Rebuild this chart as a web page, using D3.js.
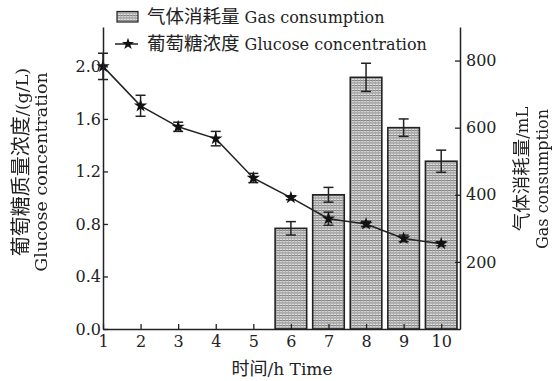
<!DOCTYPE html>
<html>
<head>
<meta charset="utf-8">
<script src="https://cdn.jsdelivr.net/npm/d3@7"></script>
<style>
  body { margin: 0; background: #fff; }
  text { font-family: "DejaVu Serif", serif; fill: #222; }
  .cjk { font-family: "Noto Sans CJK SC"; }
  .vt { filter: grayscale(100%); }
</style>
</head>
<body>
<div id="root"></div>
<script>
// time points (h)
const hours = [1, 2, 3, 4, 5, 6, 7, 8, 9, 10];
// glucose concentration (g/L) and its error
const glucose = [2.0, 1.70, 1.54, 1.45, 1.15, 1.0, 0.84, 0.80, 0.69, 0.65];
const glucoseErr = [0.10, 0.08, 0.035, 0.055, 0.035, 0.015, 0.05, 0.02, 0.025, 0.015];
// gas consumption (mL), only from hour 6 on
const gasHours = [6, 7, 8, 9, 10];
const gas = [300, 400, 750, 600, 500];
const gasErr = [20, 22, 42, 26, 33];

const leftTicks = [0, 0.4, 0.8, 1.2, 1.6, 2.0];
const rightTicks = [200, 400, 600, 800];

const width = 553, height = 381;
const m = { left: 103, right: 93, top: 27, bottom: 52 };

const svg = d3.select("#root").append("svg")
    .attr("width", width)
    .attr("height", height);

// split a label into chinese / latin runs so each gets its own font
function mixed(sel, str, cjkSize, latSize) {
    const runs = str.match(/[\u3400-\u9fff]+|[^\u3400-\u9fff]+/g);
    runs.forEach(function (r) {
        const isCjk = /[\u3400-\u9fff]/.test(r);
        sel.append("tspan")
            .attr("class", isCjk ? "cjk" : null)
            .style("font-size", (isCjk ? cjkSize : latSize) + "px")
            .text(r);
    });
    return sel;
}

// hatch pattern for bars
const defs = svg.append("defs");
const pat = defs.append("pattern")
    .attr("id", "grid")
    .attr("patternUnits", "userSpaceOnUse")
    .attr("width", 3)
    .attr("height", 2.5);
pat.append("rect").attr("width", 3).attr("height", 2.5).attr("fill", "#e2e2e2");
pat.append("rect").attr("y", 0).attr("width", 3).attr("height", 1).attr("fill", "#7a7a7a");
pat.append("rect").attr("x", 0).attr("width", 0.8).attr("height", 2.5).attr("fill", "#a8a8a8");

const x = d3.scaleLinear()
    .domain([1, 10.5])
    .range([m.left, width - m.right]);

const yL = d3.scaleLinear()
    .domain([0, 2.3])
    .range([height - m.bottom, m.top]);

const yR = d3.scaleLinear()
    .domain([0, 900])
    .range([height - m.bottom, m.top]);

const barW = 0.84 * (x(2) - x(1));

// bars
svg.selectAll(".bar")
    .data(gasHours)
    .enter()
    .append("rect")
    .attr("class", "bar")
    .attr("x", (d) => x(d) - barW / 2)
    .attr("y", (d, i) => yR(gas[i]))
    .attr("width", barW)
    .attr("height", (d, i) => yR(0) - yR(gas[i]))
    .attr("fill", "url(#grid)")
    .attr("stroke", "#222")
    .attr("stroke-width", 1.6);

// bar error bars
const capW = 5;
const barErr = svg.selectAll(".berr")
    .data(gasHours)
    .enter()
    .append("g")
    .attr("class", "berr")
    .attr("stroke", "#222")
    .attr("stroke-width", 1.5);
barErr.append("line")
    .attr("x1", (d) => x(d)).attr("x2", (d) => x(d))
    .attr("y1", (d, i) => yR(gas[i] - gasErr[i]))
    .attr("y2", (d, i) => yR(gas[i] + gasErr[i]));
barErr.append("line")
    .attr("x1", (d) => x(d) - capW).attr("x2", (d) => x(d) + capW)
    .attr("y1", (d, i) => yR(gas[i] + gasErr[i]))
    .attr("y2", (d, i) => yR(gas[i] + gasErr[i]));
barErr.append("line")
    .attr("x1", (d) => x(d) - capW).attr("x2", (d) => x(d) + capW)
    .attr("y1", (d, i) => yR(gas[i] - gasErr[i]))
    .attr("y2", (d, i) => yR(gas[i] - gasErr[i]));

// glucose line
const line = d3.line()
    .x((d) => x(d))
    .y((d, i) => yL(glucose[i]));
svg.append("path")
    .datum(hours)
    .attr("d", line)
    .attr("fill", "none")
    .attr("stroke", "#222")
    .attr("stroke-width", 1.5);

// glucose error bars
const gErr = svg.selectAll(".gerr")
    .data(hours)
    .enter()
    .append("g")
    .attr("class", "gerr")
    .attr("stroke", "#222")
    .attr("stroke-width", 1.5);
gErr.append("line")
    .attr("x1", (d) => x(d)).attr("x2", (d) => x(d))
    .attr("y1", (d, i) => yL(glucose[i] - glucoseErr[i]))
    .attr("y2", (d, i) => yL(glucose[i] + glucoseErr[i]));
gErr.append("line")
    .attr("x1", (d) => x(d) - capW).attr("x2", (d) => x(d) + capW)
    .attr("y1", (d, i) => yL(glucose[i] + glucoseErr[i]))
    .attr("y2", (d, i) => yL(glucose[i] + glucoseErr[i]));
gErr.append("line")
    .attr("x1", (d) => x(d) - capW).attr("x2", (d) => x(d) + capW)
    .attr("y1", (d, i) => yL(glucose[i] - glucoseErr[i]))
    .attr("y2", (d, i) => yL(glucose[i] - glucoseErr[i]));

// star markers
const star = d3.symbol().type(d3.symbolStar).size(55);
svg.selectAll(".pt")
    .data(hours)
    .enter()
    .append("path")
    .attr("class", "pt")
    .attr("d", star)
    .attr("transform", (d, i) => "translate(" + x(d) + "," + yL(glucose[i]) + ")")
    .attr("fill", "#111");

// axes
const axisStyle = (g) => {
    g.select(".domain").attr("stroke", "#222").attr("stroke-width", 1.5);
    g.selectAll(".tick line").attr("stroke", "#222").attr("stroke-width", 1.3);
    g.selectAll(".tick text")
        .style("font-family", "DejaVu Serif")
        .style("font-size", "16px").attr("fill", "#222");
};

svg.append("g")
    .attr("transform", "translate(0," + yL(0) + ")")
    .call(d3.axisBottom(x).tickValues(hours).tickFormat(d3.format("d"))
        .tickSizeInner(-5).tickSizeOuter(0).tickPadding(7))
    .call(axisStyle);

svg.append("g")
    .attr("transform", "translate(" + m.left + ",0)")
    .call(d3.axisLeft(yL).tickValues(leftTicks).tickFormat(d3.format(".1f"))
        .tickSizeInner(-5).tickSizeOuter(0).tickPadding(2))
    .call(axisStyle);

svg.append("g")
    .attr("transform", "translate(" + (width - m.right) + ",0)")
    .call(d3.axisRight(yR).tickValues(rightTicks)
        .tickSizeInner(-5).tickSizeOuter(0).tickPadding(6))
    .call(axisStyle);

// axis titles
mixed(svg.append("text")
    .attr("x", 282).attr("y", 375)
    .attr("text-anchor", "middle"), "时间/h Time", 18, 17);

mixed(svg.append("text")
    .attr("class", "vt")
    .attr("transform", "translate(28,162) rotate(-90)")
    .attr("text-anchor", "middle"), "葡萄糖质量浓度/(g/L)", 20, 17.5);
mixed(svg.append("text")
    .attr("class", "vt")
    .attr("transform", "translate(47,172) rotate(-90)")
    .attr("text-anchor", "middle"), "Glucose concentration", 18, 17.5);

mixed(svg.append("text")
    .attr("class", "vt")
    .attr("transform", "translate(528,169) rotate(-90)")
    .attr("text-anchor", "middle"), "气体消耗量/mL", 18.5, 16.5);
mixed(svg.append("text")
    .attr("class", "vt")
    .attr("transform", "translate(548,179) rotate(-90)")
    .attr("text-anchor", "middle"), "Gas consumption", 18, 16);

// legend
const legend = svg.append("g");
legend.append("rect")
    .attr("x", 117).attr("y", 11.5)
    .attr("width", 21).attr("height", 10.5)
    .attr("fill", "url(#grid)")
    .attr("stroke", "#222")
    .attr("stroke-width", 1.2);
mixed(legend.append("text")
    .attr("x", 147).attr("y", 23), "气体消耗量 Gas consumption", 18.5, 16);
legend.append("line")
    .attr("x1", 115).attr("x2", 138)
    .attr("y1", 44).attr("y2", 44)
    .attr("stroke", "#222").attr("stroke-width", 1.5);
legend.append("path")
    .attr("d", d3.symbol().type(d3.symbolStar).size(45))
    .attr("transform", "translate(128,44)")
    .attr("fill", "#111");
mixed(legend.append("text")
    .attr("x", 147).attr("y", 50), "葡萄糖浓度 Glucose concentration", 18.5, 16);
</script>
</body>
</html>
